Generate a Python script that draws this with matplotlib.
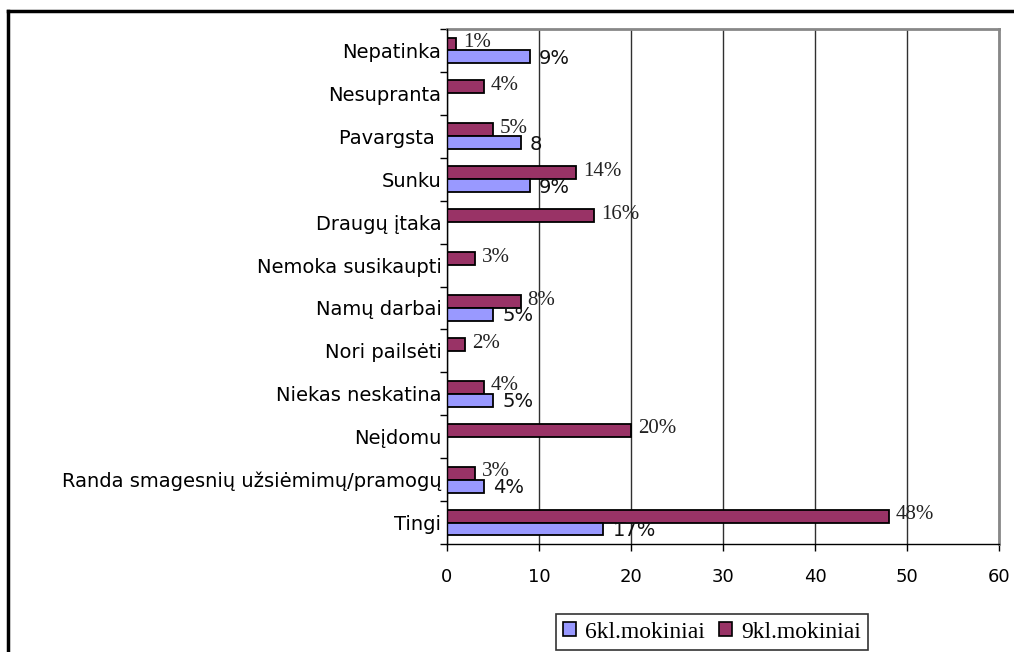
import matplotlib
matplotlib.use("Agg")
import matplotlib.pyplot as plt
from matplotlib.lines import Line2D
from matplotlib.patches import Patch
import numpy as np

categories = ["Nepatinka", "Nesupranta", "Pavargsta ", "Sunku", "Draugų įtaka",
              "Nemoka susikaupti", "Namų darbai", "Nori pailsėti", "Niekas neskatina",
              "Neįdomu", "Randa smagesnių užsiėmimų/pramogų", "Tingi"]
kl6 = [9, 0, 8, 9, 0, 0, 5, 0, 5, 0, 4, 17]
kl9 = [1, 4, 5, 14, 16, 3, 8, 2, 4, 20, 3, 48]
kl6_labels = ["9%", "", "8", "9%", "", "", "5%", "", "5%", "", "4%", "17%"]
kl9_labels = ["1%", "4%", "5%", "14%", "16%", "3%", "8%", "2%", "4%", "20%", "3%", "48%"]
series_names = ["6kl.mokiniai", "9kl.mokiniai"]
xticks = [0, 10, 20, 30, 40, 50, 60]

c6 = "#9999FF"
c9 = "#993366"

fig = plt.figure(figsize=(10.14, 6.52), dpi=100)
ax = fig.add_axes([447/1014, (652-544)/652, 552/1014, 515/652])

n = len(categories)
y = np.arange(n)[::-1].astype(float)
h = 0.3
ax.barh(y + h/2, kl9, height=h, color=c9, edgecolor="black", linewidth=1.3, zorder=3)
ax.barh([yy - h/2 for yy, v in zip(y, kl6) if v], [v for v in kl6 if v], height=h,
        color=c6, edgecolor="black", linewidth=1.3, zorder=3)

for yy, v, lab in zip(y, kl9, kl9_labels):
    ax.annotate(lab, (v, yy + h/2), xytext=(5, 1), textcoords="offset points",
                ha="left", va="center", family="Liberation Serif", fontsize=15,
                color="#222222", zorder=5)
for yy, v, lab in zip(y, kl6, kl6_labels):
    if lab:
        ax.annotate(lab, (v, yy - h/2), xytext=(6.5, -1), textcoords="offset points",
                    ha="left", va="center", family="DejaVu Sans", fontsize=14,
                    color="#111111", zorder=5)

ax.set_xlim(0, 60)
ax.set_ylim(-0.5, n - 0.5)
ax.set_xticks(xticks)
ax.set_xticklabels([str(t) for t in xticks], fontsize=13)
ax.set_yticks(y)
ax.set_yticklabels(categories, fontsize=14)
ax.set_yticks(np.arange(n + 1) - 0.5, minor=True)
ax.tick_params(axis="y", which="major", length=0, pad=4)
ax.tick_params(axis="y", which="minor", length=5, width=1, direction="out")
ax.tick_params(axis="x", which="major", length=5, width=1, direction="out", pad=12)

ax.grid(axis="x", color="#303030", linewidth=1, zorder=1)
ax.set_axisbelow(True)
for s in ["top", "right"]:
    ax.spines[s].set_color("#888888")
    ax.spines[s].set_linewidth(2)
for s in ["left", "bottom"]:
    ax.spines[s].set_color("black")
    ax.spines[s].set_linewidth(1)
ax.spines["left"].set_zorder(4)

handles = [Patch(facecolor=c6, edgecolor="black", linewidth=1.2),
           Patch(facecolor=c9, edgecolor="black", linewidth=1.2)]
leg = fig.legend(handles, series_names, loc="center", bbox_to_anchor=(712/1014, (652-632)/652),
                 ncol=2, frameon=True, fancybox=False, shadow=False,
                 prop={"family": "Liberation Serif", "size": 17},
                 handlelength=0.55, handleheight=0.55, handletextpad=0.4,
                 columnspacing=0.6, borderpad=0.3)
leg.get_frame().set_edgecolor("black")
leg.get_frame().set_linewidth(1.2)

# outer chart frame (left and top edges visible)
fig.add_artist(Line2D([8/1014, 8/1014], [-0.05, (652-11)/652], color="black", linewidth=2.5,
                      transform=fig.transFigure))
fig.add_artist(Line2D([8/1014, 1.05], [(652-11)/652, (652-11)/652], color="black", linewidth=2.5,
                      transform=fig.transFigure))

fig.savefig("out.png", dpi=100)
